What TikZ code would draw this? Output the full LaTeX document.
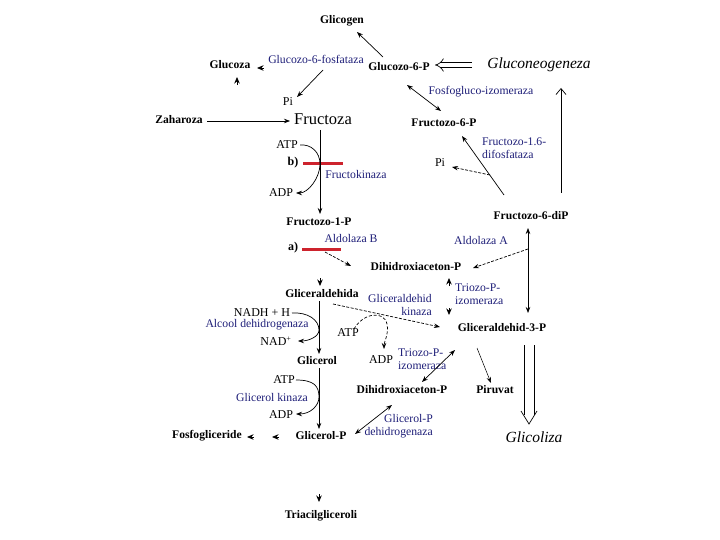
\documentclass[tikz,border=0pt]{standalone}
\usepackage{fontspec}
\setmainfont{Liberation Serif}
\usetikzlibrary{arrows.meta,calc}
\definecolor{enzblue}{RGB}{30,30,120}
\definecolor{barred}{RGB}{205,35,45}
\begin{document}
\begin{tikzpicture}[x=1pt,y=-1pt,
  lbl/.style={font=\fontsize{11.6}{13}\selectfont\bfseries, inner sep=0pt},
  big/.style={font=\fontsize{12}{14}\selectfont\bfseries, inner sep=0pt},
  enz/.style={font=\fontsize{11.7}{13}\selectfont, text=enzblue, inner sep=0pt},
  cof/.style={font=\fontsize{12}{14}\selectfont, inner sep=0pt},
  ital/.style={font=\fontsize{15.5}{17}\selectfont\itshape, inner sep=0pt},
  arr/.style={-{Stealth[length=6pt,width=4.5pt]}, line width=0.7pt},
  darr/.style={{Stealth[length=6pt,width=4.5pt]}-{Stealth[length=6pt,width=4.5pt]}, line width=0.7pt},
  dsh/.style={dash pattern=on 3pt off 1.5pt},
  tipw/.style={-{Stealth[length=6.5pt,width=5.5pt]}, line width=0.8pt},
  redbar/.style={draw=barred, line width=3pt},
  hollow/.style={double, double distance=#1, line width=0.7pt, -{Implies}},
  openup/.style={line width=0.7pt, -{Straight Barb[length=6pt,width=10pt]}},
  plain/.style={line width=0.7pt},
]
\useasboundingbox (0,0) rectangle (720,540);

% nodes
\node[lbl] (glicogen) at (342,21) {Glicogen};
\node[lbl] (glucoza) at (230,65) {Glucoza};
\node[enz] (g6pase) at (316,59) {Glucozo-6-fosfataza};
\node[lbl] (g6p) at (399,67) {Glucozo-6-P};
\node[ital] (gluconeo) at (539,65) {Gluconeogeneza};
\node[cof] (pi1) at (288,102) {Pi};
\node[lbl] (zaharoza) at (179,120) {Zaharoza};
\node[font=\fontsize{16.5}{18}\selectfont, inner sep=0pt] (fructoza) at (323,119) {Fructoza};
\node[enz] (fosfogluco) at (481,92) {Fosfogluco-izomeraza};
\node[lbl] (f6p) at (444,123) {Fructozo-6-P};
\node[cof] (atp1) at (287,145) {ATP};
\node[big] (b) at (293,163) {b)};
\node[enz] (fkin) at (356,174) {Fructokinaza};
\node[enz, anchor=west, align=left] (f16) at (482,148) {Fructozo-1.6-\\difosfataza};
\node[cof] (pi2) at (440,163) {Pi};
\node[cof] (adp1) at (281,193) {ADP};
\node[lbl] (f1p) at (319,222) {Fructozo-1-P};
\node[lbl] (f6dip) at (531,216) {Fructozo-6-diP};
\node[enz] (aldB) at (351,238) {Aldolaza B};
\node[enz] (aldA) at (481,240) {Aldolaza A};
\node[big] (a) at (293,248) {a)};
\node[lbl] (dhap1) at (416,267) {Dihidroxiaceton-P};
\node[enz, anchor=west, align=left] (tpi1) at (455,294) {Triozo-P-\\izomeraza};
\node[lbl] (gald) at (322,294) {Gliceraldehida};
\node[enz, anchor=east, align=right] (galdk) at (432,305) {Gliceraldehid\\kinaza};
\node[cof] (nadh) at (262,313) {NADH + H};
\node[enz] (alcool) at (257,325) {Alcool dehidrogenaza};
\node[cof] (nad) at (276,341) {NAD\textsuperscript{+}};
\node[cof] (atp3) at (348,333) {ATP};
\node[lbl] (g3p) at (502,328) {Gliceraldehid-3-P};
\node[cof] (adp2) at (381,360) {ADP};
\node[enz, anchor=west, align=left] (tpi2) at (398,359) {Triozo-P-\\izomeraza};
\node[lbl] (glicerol) at (317,361) {Glicerol};
\node[cof] (atp4) at (284,380) {ATP};
\node[enz] (glkin) at (272,397) {Glicerol kinaza};
\node[cof] (adp3) at (281,415) {ADP};
\node[lbl] (dhap2) at (402,390) {Dihidroxiaceton-P};
\node[lbl] (piruvat) at (495,390) {Piruvat};
\node[enz, anchor=east, align=right] (g3pdh) at (433,426) {Glicerol-P\\dehidrogenaza};
\node[lbl] (fosfogl) at (207,436) {Fosfogliceride};
\node[lbl] (glicerolP) at (321,436) {Glicerol-P};
\node[ital] (glicoliza) at (534,437) {Glicoliza};
\node[lbl] (triacil) at (321,516) {Triacilgliceroli};

% helper coordinates
\coordinate (m1) at (320,164);
\coordinate (m2) at (319,330);
\coordinate (m3) at (319,397);
\coordinate (m4) at (387,324);
\coordinate (br1) at (490,175);
\coordinate (br2) at (528,249);

% red bars
\draw[redbar] ([shift={(10,1)}]b.center) -- ([shift={(50,1)}]b.center);
\draw[redbar] ([shift={(9,1)}]a.center) -- ([shift={(48,1)}]a.center);

% top part
\draw[arr] ([shift={(-16,-10)}]g6p.center) -- ([shift={(15,11)}]glicogen.center);
\draw[arr] ([shift={(7,11)}]g6pase.center) -- ([shift={(9,-5)}]pi1.center);
\draw[tipw] ([shift={(34,3)}]glucoza.center) -- ([shift={(27,3)}]glucoza.center);
\draw[tipw] ([shift={(7,20)}]glucoza.center) -- ([shift={(7,12)}]glucoza.center);
\draw[hollow=4pt] ([shift={(-67,0)}]gluconeo.center) -- ([shift={(36,-2)}]g6p.center);
\draw[arr] ([shift={(28,1)}]zaharoza.center) -- ([shift={(-33,2)}]fructoza.center);
\draw[darr] ([shift={(8,18)}]g6p.center) -- ([shift={(-3,-12)}]f6p.center);
\draw[arr] ([shift={(-27,-21)}]f6dip.center) -- ([shift={(18,13)}]f6p.center);
\draw[arr,dsh] (br1) -- ([shift={(12,4)}]pi2.center);
\draw[openup] ([shift={(30,-23)}]f6dip.center) -- ([shift={(22,23)}]gluconeo.center);

% fructose branch
\draw[arr] ([shift={(-3,11)}]fructoza.center) -- ([shift={(1,-8)}]f1p.center);
\draw[arr] ([shift={(13,0)}]atp1.center) .. controls +(11,-1) and +(0,-12) .. (m1)
  .. controls +(0,14) and +(12,0) .. ([shift={(15,0)}]adp1.center);
\draw[arr,dsh] ([shift={(-26,14)}]aldB.center) -- ([shift={(-65,-1)}]dhap1.center);
\draw[tipw] ([shift={(-2,-16)}]gald.center) -- ([shift={(-2,-8)}]gald.center);

% aldolase A / triose
\draw[darr] ([shift={(-3,12)}]f6dip.center) -- ([shift={(26,-15)}]g3p.center);
\draw[arr,dsh] (br2) -- ([shift={(57,1)}]dhap1.center);
\draw[tipw] ([shift={(33,19)}]dhap1.center) -- ([shift={(33,11)}]dhap1.center);
\draw[tipw] ([shift={(-53,-20)}]g3p.center) -- ([shift={(-53,-13)}]g3p.center);

% glyceraldehyde branch
\draw[arr,dsh] ([shift={(11,10)}]gald.center) -- ([shift={(-62,-1)}]g3p.center);
\draw[arr,densely dashed] ([shift={(6,-4)}]atp3.center) .. controls +(9,-16) and +(-3,-14) .. (m4)
  .. controls +(2,10) and +(0,-7) .. ([shift={(3,-11)}]adp2.center);
\draw[arr] ([shift={(-3,7)}]gald.center) -- ([shift={(2,-7)}]glicerol.center);
\draw[arr] ([shift={(30,0)}]nadh.center) .. controls +(16,-1) and +(0,-10) .. (m2)
  .. controls +(0,7) and +(10,0) .. ([shift={(22,0)}]nad.center);
\draw[arr] ([shift={(2,7)}]glicerol.center) -- ([shift={(-2,-7)}]glicerolP.center);
\draw[arr] ([shift={(12,0)}]atp4.center) .. controls +(18,0) and +(0,-11) .. (m3)
  .. controls +(0,9) and +(14,0) .. ([shift={(15,-1)}]adp3.center);

% lower right
\draw[darr] ([shift={(-47,22)}]g3p.center) -- ([shift={(20,-8)}]dhap2.center);
\draw[arr,line width=0.5pt] ([shift={(-25,20)}]g3p.center) -- ([shift={(-4,-7)}]piruvat.center);
% hollow arrow to Glicoliza
\draw[plain] ([shift={(22,17)}]g3p.center) -- ([shift={(-10,-22)}]glicoliza.center);
\draw[plain] ([shift={(32,17)}]g3p.center) -- ([shift={(0,-22)}]glicoliza.center);
\draw[plain] ([shift={(-13,-26)}]glicoliza.center) -- ([shift={(-5,-13)}]glicoliza.center)
  -- ([shift={(3,-26)}]glicoliza.center);
\draw[darr] ([shift={(34,-2)}]glicerolP.center) -- ([shift={(-10,15)}]dhap2.center);

% bottom
\draw[tipw] ([shift={(47,1)}]fosfogl.center) -- ([shift={(40,1)}]fosfogl.center);
\draw[tipw] ([shift={(72,1)}]fosfogl.center) -- ([shift={(65,1)}]fosfogl.center);
\draw[tipw] ([shift={(-2,-22)}]triacil.center) -- ([shift={(-2,-14)}]triacil.center);
\end{tikzpicture}
\end{document}
